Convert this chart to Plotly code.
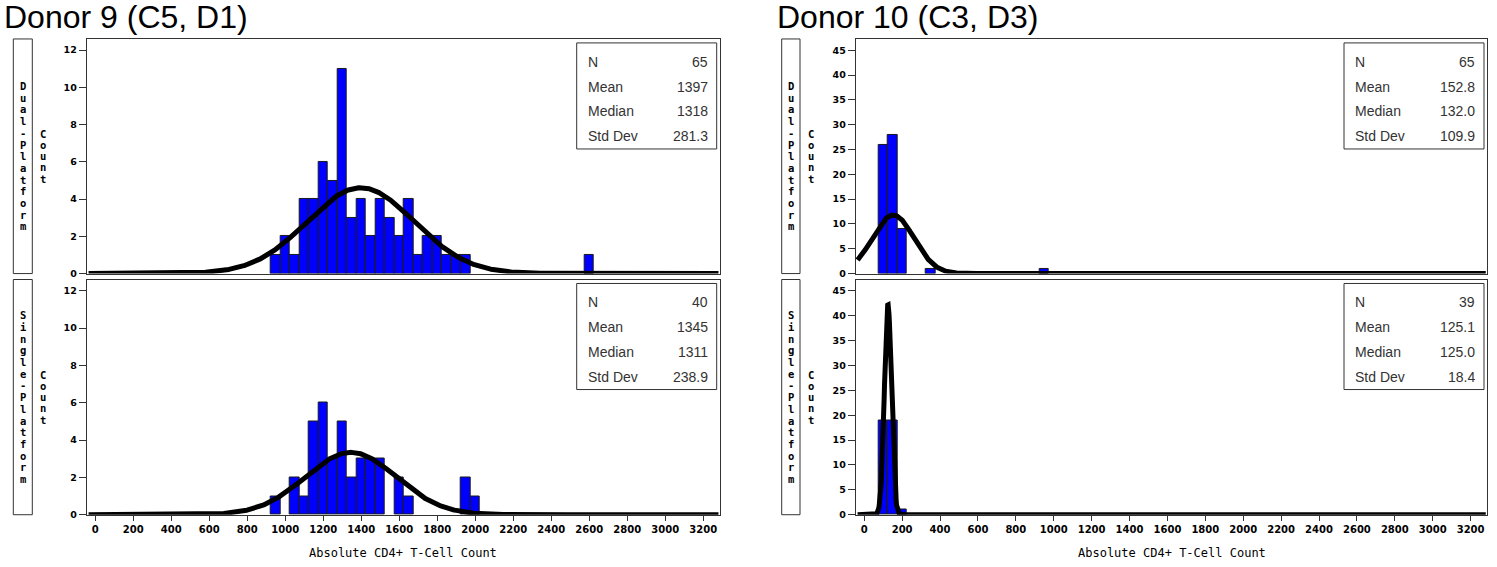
import numpy as np
import plotly.graph_objects as go

W, H = 1497, 567

# ---- histogram data (bin midpoints, bin width 50) ----
bin_width = 50

d9_dual_mid = [950, 1000, 1050, 1100, 1150, 1200, 1250, 1300, 1350, 1400, 1450,
               1500, 1550, 1600, 1650, 1700, 1750, 1800, 1850, 1900, 1950, 2600]
d9_dual_cnt = [1, 2, 1, 4, 4, 6, 5, 11, 3, 4, 2, 4, 3, 2, 4, 1, 2, 2, 1, 1, 1, 1]

d9_single_mid = [950, 1050, 1100, 1150, 1200, 1250, 1300, 1350, 1400, 1450,
                 1500, 1600, 1650, 1950, 2000]
d9_single_cnt = [1, 2, 1, 5, 6, 3, 5, 2, 3, 3, 3, 2, 1, 2, 1]

d10_dual_mid = [100, 150, 200, 350, 950]
d10_dual_cnt = [26, 28, 9, 1, 1]

d10_single_mid = [100, 150, 200]
d10_single_cnt = [19, 19, 1]

# ---- summary statistics shown in the inset boxes ----
stat_labels = ["N", "Mean", "Median", "Std Dev"]
d9_dual_stats = ["65", "1397", "1318", "281.3"]
d9_single_stats = ["40", "1345", "1311", "238.9"]
d10_dual_stats = ["65", "152.8", "132.0", "109.9"]
d10_single_stats = ["39", "125.1", "125.0", "18.4"]

x_ticks = list(range(0, 3201, 200))
x_range = [-45, 3288]
left_y_range = [0, 12.6]
right_y_range = [0, 47.3]

titles = ["Donor 9 (C5, D1)", "Donor 10 (C3, D3)"]
row_labels = ["Dual-Platform", "Single-Platform"]
y_title = "Count"
x_title = "Absolute CD4+ T-Cell Count"


def px(x):
    return x / W


def py(y):
    return 1 - y / H


# panel frames in pixels: (left, right, top, bottom)
frames = {
    "tl": (86.7, 720.0, 39.3, 276.0),
    "bl": (86.7, 720.0, 282.0, 519.3),
    "tr": (855.7, 1487.3, 39.3, 276.0),
    "br": (855.7, 1487.3, 282.0, 519.3),
}

panels = [
    # key, axis suffix, mids, counts, stats
    ("tl", "", d9_dual_mid, d9_dual_cnt, d9_dual_stats),
    ("bl", "2", d9_single_mid, d9_single_cnt, d9_single_stats),
    ("tr", "3", d10_dual_mid, d10_dual_cnt, d10_dual_stats),
    ("br", "4", d10_single_mid, d10_single_cnt, d10_single_stats),
]

fig = go.Figure()
curve_x = np.linspace(-35, 3280, 1400)

for key, sfx, mids, cnts, stats in panels:
    xa, ya = "x" + sfx, "y" + sfx
    fig.add_trace(go.Bar(
        x=mids, y=cnts, width=bin_width, xaxis=xa, yaxis=ya,
        marker=dict(color="#0000FF", line=dict(color="#1a1a1a", width=1)),
        showlegend=False, hoverinfo="skip",
    ))
    # fitted normal curve scaled to counts per bin
    n, mean, sd = float(stats[0]), float(stats[1]), float(stats[3])
    dens = n * bin_width / (sd * np.sqrt(2 * np.pi)) * np.exp(-0.5 * ((curve_x - mean) / sd) ** 2)
    fig.add_trace(go.Scatter(
        x=curve_x, y=dens, xaxis=xa, yaxis=ya, mode="lines",
        line=dict(color="black", width=5), showlegend=False, hoverinfo="skip",
    ))

axis_common = dict(showline=True, mirror=True, linecolor="#333333", linewidth=1,
                   showgrid=False, zeroline=False)
tick_font = dict(family="DejaVu Sans", size=10, color="black", weight="bold")
ytick_font = dict(family="DejaVu Sans", size=9.5, color="black", weight="bold")

layout_axes = {}
for key, sfx, mids, cnts, stats in panels:
    l, r, t, b = frames[key]
    bottom = key.startswith("b")
    right = key.endswith("r")
    xa = dict(axis_common, domain=[px(l), px(r)], range=x_range,
              anchor="y" + sfx, tickvals=x_ticks)
    if bottom:
        xa.update(ticks="outside", ticklen=5, tickcolor="#333333",
                  tickfont=tick_font, showticklabels=True)
    else:
        xa.update(ticks="", showticklabels=False)
    ya = dict(axis_common, domain=[py(b), py(t)], anchor="x" + sfx,
              range=right_y_range if right else left_y_range,
              dtick=5 if right else 2, tick0=0,
              ticks="outside", ticklen=7, tickcolor="#333333", tickfont=ytick_font)
    layout_axes["xaxis" + sfx] = xa
    layout_axes["yaxis" + sfx] = ya

shapes = []
annotations = []

# figure titles
for text, x0 in zip(titles, [2, 775]):
    annotations.append(dict(text=text, x=px(x0), y=py(17), xref="paper", yref="paper",
                            xanchor="left", yanchor="middle", showarrow=False,
                            font=dict(family="Liberation Sans", size=32, color="black")))

label_font = dict(family="DejaVu Sans Mono", size=10.5, color="black", weight="bold")


def stacked_text(text, cx, cy, step):
    """Write text one character per row, centred on (cx, cy) in pixels."""
    n = len(text)
    for i, ch in enumerate(text):
        if ch == " ":
            continue
        yy = cy + (i - (n - 1) / 2) * step
        annotations.append(dict(text=ch, x=px(cx), y=py(yy), xref="paper", yref="paper",
                                xanchor="center", yanchor="middle", showarrow=False,
                                font=label_font))


# row label boxes and vertical "Count" titles
for box_l, box_r, count_x in [(13.3, 32.3, 43), (781.7, 800.0, 811)]:
    for (t, b), label in zip([(39.3, 276.0), (282.0, 519.3)], row_labels):
        shapes.append(dict(type="rect", xref="paper", yref="paper",
                           x0=px(box_l), x1=px(box_r), y0=py(b), y1=py(t),
                           line=dict(color="#333333", width=1)))
        stacked_text(label, (box_l + box_r) / 2, (t + b) / 2, 11.8)
        stacked_text(y_title, count_x, (t + b) / 2, 11.3)

# x-axis titles
for key in ["bl", "br"]:
    l, r, t, b = frames[key]
    annotations.append(dict(text=x_title, x=px((l + r) / 2), y=py(558), xref="paper",
                            yref="paper", xanchor="center", yanchor="middle",
                            showarrow=False,
                            font=dict(family="DejaVu Sans Mono", size=12, color="black")))

# statistics inset boxes
stat_font = dict(family="Liberation Sans", size=14, color="#333333")
for key, sfx, mids, cnts, stats in panels:
    l, r, t, b = frames[key]
    bx0, bx1 = r - 143.3, r - 3.3
    by0, by1 = t + 4, t + 111
    shapes.append(dict(type="rect", xref="paper", yref="paper",
                       x0=px(bx0), x1=px(bx1), y0=py(by1), y1=py(by0),
                       line=dict(color="#333333", width=1), fillcolor="white"))
    for i, (lab, val) in enumerate(zip(stat_labels, stats)):
        yy = t + 23 + 25 * i
        annotations.append(dict(text=lab, x=px(bx0 + 9), y=py(yy), xref="paper",
                                yref="paper", xanchor="left", yanchor="middle",
                                showarrow=False, font=stat_font))
        annotations.append(dict(text=val, x=px(bx1 - 7), y=py(yy), xref="paper",
                                yref="paper", xanchor="right", yanchor="middle",
                                showarrow=False, font=stat_font))

fig.update_layout(
    width=W, height=H,
    margin=dict(l=0, r=0, t=0, b=0),
    paper_bgcolor="white", plot_bgcolor="white",
    bargap=0, showlegend=False,
    shapes=shapes, annotations=annotations,
    **layout_axes,
)

fig.write_html("out.html", config={"displayModeBar": False})
